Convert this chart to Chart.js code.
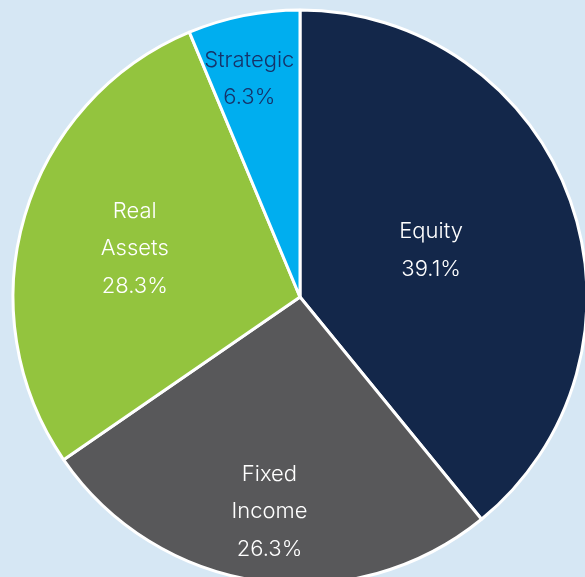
<!DOCTYPE html>
<html>
<head>
<meta charset="utf-8">
<script src="https://cdn.jsdelivr.net/npm/chart.js@4"></script>
<style>
  html, body { margin: 0; padding: 0; background: #d6e7f4; overflow: hidden; width: 585px; height: 577px; }
  #wrap { position: absolute; left: 0; top: 0; width: 600px; height: 594px; }
</style>
</head>
<body>
<div id="wrap"><canvas id="pieChart" width="600" height="594"></canvas></div>
<script>
// Allocation data
const categories = ['Equity', 'Fixed Income', 'Real Assets', 'Strategic'];
const allocation = [39.1, 26.3, 28.3, 6.3];
// label lines as shown in the chart
const labelLines = [['Equity'], ['Fixed', 'Income'], ['Real', 'Assets'], ['Strategic']];

const sliceColors = ['#13274a', '#58585a', '#93c43e', '#00aeef'];
const labelColors = ['#ffffff', '#ffffff', '#ffffff', '#15336a'];
// how far out (fraction of radius) each label sits, plus a small sideways nudge
const labelRadius = [0.485, 0.755, 0.6, 0.775];
const labelNudgeX = [0, 0, 0, -7];

// draws the category + percentage text inside each slice
const sliceLabels = {
    id: 'sliceLabels',
    afterDatasetsDraw(chart) {
        const ctx = chart.ctx;
        const meta = chart.getDatasetMeta(0);
        ctx.save();
        ctx.font = '300 22px Inter, "Open Sans", sans-serif';
        ctx.textAlign = 'center';
        ctx.textBaseline = 'middle';
        meta.data.forEach((arc, i) => {
            const mid = (arc.startAngle + arc.endAngle) / 2;
            const r = arc.outerRadius * labelRadius[i];
            const cx = arc.x + Math.cos(mid) * r + labelNudgeX[i];
            const cy = arc.y + Math.sin(mid) * r;
            const lines = labelLines[i].concat([allocation[i].toFixed(1) + '%']);
            const lh = 37.5;
            const top = cy - (lines.length - 1) * lh / 2;
            ctx.fillStyle = labelColors[i];
            lines.forEach((t, j) => ctx.fillText(t, cx, top + j * lh));
        });
        ctx.restore();
    }
};

const ctx = document.getElementById('pieChart').getContext('2d');
new Chart(ctx, {
    type: 'pie',
    data: {
        labels: categories,
        datasets: [{
            data: allocation,
            backgroundColor: sliceColors,
            borderColor: '#ffffff',
            borderWidth: 3
        }]
    },
    options: {
        responsive: false,
        animation: false,
        layout: { padding: { left: 8.5, right: 8.5, top: 8.5, bottom: 8.5 } },
        plugins: {
            legend: { display: false },
            tooltip: { enabled: false }
        }
    },
    plugins: [sliceLabels]
});
</script>
</body>
</html>
